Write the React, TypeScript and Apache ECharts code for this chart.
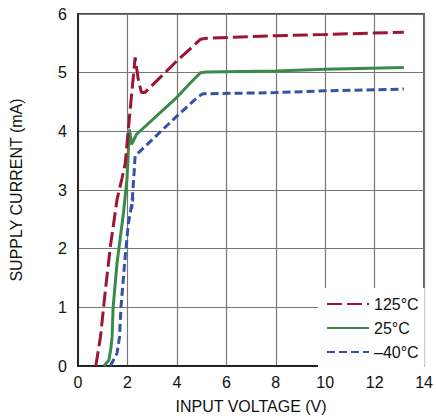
import React, { useEffect, useRef } from "react";
import * as echarts from "echarts";

const seriesNames = ["125°C", "25°C", "–40°C"];

const hot: number[][] = [
  [0.72, 0], [0.91, 0.5], [1.11, 1.3], [1.31, 2.04], [1.58, 2.84], [1.78, 3.2],
  [1.91, 3.45], [2.11, 4.37], [2.24, 4.94], [2.31, 5.26], [2.45, 4.85], [2.57, 4.66],
  [2.7, 4.66], [4.0, 5.2], [4.96, 5.57], [5.2, 5.585], [8, 5.63], [10, 5.65], [13.18, 5.69],
];

const room: number[][] = [
  [1.05, 0], [1.25, 0.1], [1.33, 0.3], [1.38, 0.5], [1.42, 1.0], [1.58, 1.76],
  [1.84, 2.61], [1.98, 3.18], [2.04, 3.69], [2.08, 4.03], [2.17, 3.78], [2.37, 3.95],
  [4.0, 4.58], [4.6, 4.85], [4.96, 5.0], [5.2, 5.01], [8, 5.03], [10, 5.06], [13.18, 5.09],
];

const cold: number[][] = [
  [1.31, 0], [1.58, 0.22], [1.68, 0.5], [1.74, 1.01], [1.91, 1.87], [2.04, 2.44],
  [2.12, 2.62], [2.22, 2.88], [2.17, 2.68], [2.27, 3.3], [2.31, 3.58], [4.0, 4.26],
  [4.83, 4.58], [5.05, 4.64], [8, 4.66], [10, 4.69], [13.18, 4.72],
];

const FONT = "'Liberation Sans Narrow', 'Liberation Sans', Arial, sans-serif";

export default function App() {
  const ref = useRef<HTMLDivElement>(null);
  useEffect(() => {
    if (!ref.current) return;
    const chart = echarts.init(ref.current, undefined, { renderer: "svg" });
    chart.setOption({
      animation: false,
      backgroundColor: "#fff",
      textStyle: { fontFamily: FONT },
      grid: {
        left: 77, top: 14, width: 352, height: 352,
        show: true, borderColor: "#111", borderWidth: 1.5,
      },
      legend: {
        orient: "vertical",
        left: 318, top: 288,
        backgroundColor: "#fff",
        padding: [8, 6, 12, 8],
        itemWidth: 42, itemHeight: 14, itemGap: 8,
        itemStyle: { opacity: 0, borderWidth: 0 },
        textStyle: { fontFamily: FONT, fontSize: 16, color: "#111" },
        data: seriesNames,
      },
      xAxis: {
        type: "value", min: 0, max: 14, interval: 2,
        name: "INPUT VOLTAGE (V)", nameLocation: "middle", nameGap: 32,
        nameTextStyle: { fontFamily: FONT, fontSize: 16, color: "#111" },
        axisLine: { show: true, lineStyle: { color: "#111", width: 1.5 } },
        axisTick: { show: false },
        axisLabel: { fontFamily: FONT, fontSize: 16, color: "#111", margin: 8 },
        splitLine: { show: true, lineStyle: { color: "#777", width: 1.2 } },
      },
      yAxis: {
        type: "value", min: 0, max: 6, interval: 1,
        name: "SUPPLY CURRENT (mA)", nameLocation: "middle", nameGap: 54,
        nameTextStyle: { fontFamily: FONT, fontSize: 16, color: "#111" },
        axisLine: { show: true, lineStyle: { color: "#111", width: 1.5 } },
        axisTick: { show: false },
        axisLabel: { fontFamily: FONT, fontSize: 16, color: "#111", margin: 11 },
        splitLine: { show: true, lineStyle: { color: "#777", width: 1.2 } },
      },
      series: [
        {
          name: seriesNames[0], type: "line", data: hot, showSymbol: false, symbol: "none",
          itemStyle: { color: "#9c1535" },
          lineStyle: { color: "#9c1535", width: 3, type: [15, 5] },
          z: 3,
        },
        {
          name: seriesNames[1], type: "line", data: room, showSymbol: false, symbol: "none",
          itemStyle: { color: "#3a8a4c" },
          lineStyle: { color: "#3a8a4c", width: 3 },
          z: 2,
        },
        {
          name: seriesNames[2], type: "line", data: cold, showSymbol: false, symbol: "none",
          itemStyle: { color: "#3553a6" },
          lineStyle: { color: "#3553a6", width: 3, type: [8, 4] },
          z: 1,
        },
      ],
    });
    return () => chart.dispose();
  }, []);
  return (
    <div
      ref={ref}
      style={{ position: "fixed", left: 0, top: 0, width: 436, height: 419 }}
    />
  );
}
